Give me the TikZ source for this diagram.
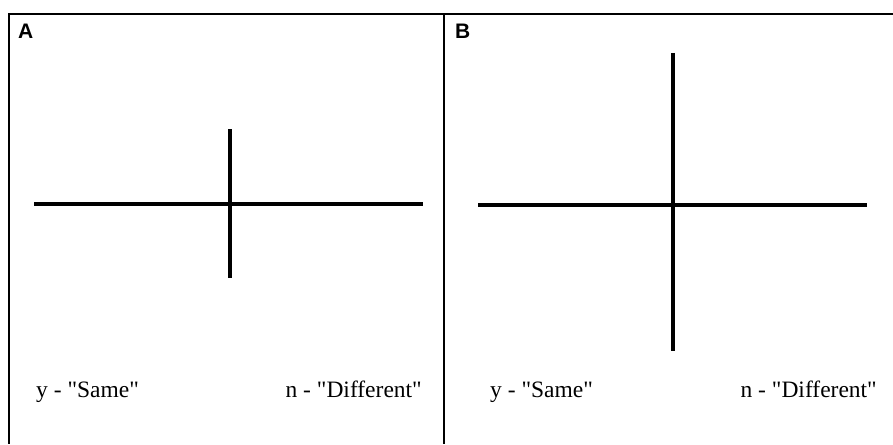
\documentclass[tikz,border=0pt]{standalone}
\usepackage{fontspec}
\setmainfont{Liberation Serif}
\newfontfamily\labelfont{Liberation Sans}
\usetikzlibrary{calc}
\newcommand{\qt}{\textquotedbl}
\tikzset{
  frameln/.style = {black, line width=1.6pt},
  crossln/.style = {black, line width=3.2pt},
  panellbl/.style = {font=\labelfont\bfseries\fontsize{21}{23}\selectfont, anchor=base west, inner sep=0pt},
  keytext/.style  = {font=\fontsize{23.5}{26}\selectfont, inner sep=0pt}
}

\begin{document}
\begin{tikzpicture}[x=1pt,y=-1pt]
  \useasboundingbox (0,0) rectangle (893,444);
  % --- the two frames --------------------------------------------------
  \draw[frameln] (8,14) -- (893,14);
  \draw[frameln] (9,14) -- (9,444);
  \draw[frameln] (444,14) -- (444,444);
  \node[panellbl] (lblA) at (18,38) {A};
  \node[panellbl] (lblB) at (455,38) {B};
  % --- panel A: short vertical bar --------------------------------------
  \coordinate (aW) at (34,204);
  \coordinate (aE) at (423,204);
  \coordinate (aN) at (230,129);
  \coordinate (aS) at (230,278);
  \draw[crossln] (aW) -- (aE);
  \draw[crossln] (aN) -- (aS);
  \node[keytext, anchor=base west] (aSame) at (36,397) {y - \qt Same\qt};
  \node[keytext, anchor=base east] (aDiff) at (422,397) {n - \qt Different\qt};
  % --- panel B: long vertical bar ---------------------------------------
  \coordinate (bW) at (478,205);
  \coordinate (bE) at (867,205);
  \coordinate (bN) at (673,53);
  \coordinate (bS) at (673,351);
  \draw[crossln] (bW) -- (bE);
  \draw[crossln] (bN) -- (bS);
  \node[keytext, anchor=base west] (bSame) at (490,397) {y - \qt Same\qt};
  \node[keytext, anchor=base east] (bDiff) at (877,397) {n - \qt Different\qt};
\end{tikzpicture}
\end{document}
